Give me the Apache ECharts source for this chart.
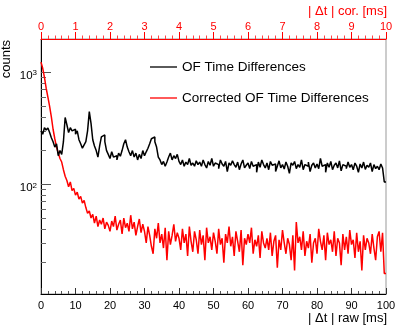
<!DOCTYPE html>
<html>
<head>
<meta charset="utf-8">
<script src="https://cdn.jsdelivr.net/npm/echarts@6/dist/echarts.min.js"></script>
<style>
html,body{margin:0;padding:0;background:#fff;}
#chart{width:415px;height:328px;}
</style>
</head>
<body>
<div id="chart"></div>
<script>
// ---- data ----
const seriesNames = ['OF Time Differences', 'Corrected OF Time Differences'];
const rawRange = [0, 100];   // bottom axis, ms
const corRange = [0, 10];    // top axis, ms
const rawBinWidth = 0.5;
const corBinWidth = 0.05;
const rawTicks = [0, 10, 20, 30, 40, 50, 60, 70, 80, 90, 100];
const corTicks = [0, 1, 2, 3, 4, 5, 6, 7, 8, 9, 10];
const yMajorTicks = [100, 1000];
const yMinorTicks = [20, 30, 40, 50, 60, 70, 80, 90, 200, 300, 400, 500, 600, 700, 800, 900];
const yRange = [10.5, 1980];

const ofCounts = [
300,280,320,305,318,290,260,240,215,230,
180,200,185,240,395,340,290,320,300,310,
280,300,250,230,210,225,240,300,445,350,
250,220,200,175,220,265,276,240,200,185,
170,195,175,180,165,190,178,200,230,250,
215,195,180,200,175,190,165,185,170,200,
180,195,210,230,255,265,240,215,175,165,
150,160,145,158,175,190,165,180,170,185,
160,150,165,145,158,150,170,148,155,145,
162,150,158,145,165,150,140,160,148,170,
145,155,150,138,165,152,145,160,130,155,
148,162,150,142,158,135,152,165,140,148,
155,138,160,145,150,128,158,142,165,150,
140,155,135,160,148,152,130,145,162,140,
150,137,158,145,125,155,148,160,138,150,
142,165,135,150,145,158,130,148,155,140,
152,138,170,145,150,128,155,142,160,135,
148,155,140,162,132,150,145,138,158,142,
150,135,155,145,128,152,140,158,136,148,
142,155,130,150,138,145,135,152,140,105
];

const corCounts = [
1230,1085,900,720,600,495,400,310,255,215,
190,170,158,135,118,108,95,105,88,92,
80,85,74,78,68,72,62,55,58,50,
54,45,52,42,48,44,50,40,46,43,
38,47,42,52,39,44,48,36,50,41,
45,38,53,40,46,35,42,49,37,44,
38,30,42,35,28,24,40,33,45,30,
36,27,41,21,38,29,35,44,31,37,
33,26,40,30,36,23,42,31,25,38,
32,24,39,29,35,21,41,30,34,26,
37,31,24,40,29,33,20,36,30,42,
28,34,23,38,31,25,39,19,33,29,
36,30,41,24,32,28,35,22,38,30,
27,33,26,37,23,31,35,18,32,26,
39,30,24,33,29,21,35,17,46,30,
34,26,38,23,31,27,36,20,30,33,
24,40,31,26,35,21,37,29,32,25,
38,23,33,30,19,36,26,34,24,39,
29,32,22,37,25,31,17,35,26,33,
30,24,36,27,21,34,38,25,37,16
];

// ---- build histogram step data (left bin edges + closing edge) ----
function histData(counts, w, xmax) {
  const d = counts.map((c, i) => [i * w, c]);
  d.push([xmax, counts[counts.length - 1]]);
  return d;
}

const FONT = 'Liberation Sans';
const chart = echarts.init(document.getElementById('chart'), null, {renderer: 'canvas'});

chart.setOption({
  animation: false,
  backgroundColor: '#fff',
  grid: {left: 41, right: 29, top: 39, bottom: 34, show: true, borderColor: '#999', borderWidth: 1, containLabel: false},
  legend: {
    data: seriesNames,
    orient: 'vertical',
    left: 145, top: 55,
    icon: 'rect',
    itemWidth: 27, itemHeight: 1.3,
    itemGap: 17,
    textStyle: {fontFamily: FONT, fontSize: 13.5, color: '#000'},
    selectedMode: false
  },
  xAxis: [
    {
      type: 'value', position: 'bottom', min: rawRange[0], max: rawRange[1], interval: 10,
      axisLine: {show: true, lineStyle: {color: '#000', width: 1}},
      axisTick: {show: true, inside: true, length: 6, lineStyle: {color: '#333'}},
      minorTick: {show: true, splitNumber: 5, length: 3, lineStyle: {color: '#555'}},
      axisLabel: {show: true, margin: 6, fontFamily: FONT, fontSize: 11, color: '#000',
        customValues: rawTicks},
      splitLine: {show: false}
    },
    {
      type: 'value', position: 'top', min: corRange[0], max: corRange[1], interval: 1,
      axisLine: {show: true, lineStyle: {color: '#f00', width: 1}},
      axisTick: {show: true, inside: false, length: 7, lineStyle: {color: '#f00'}},
      minorTick: {show: true, splitNumber: 5, length: 3.5, lineStyle: {color: '#f44'}},
      axisLabel: {show: true, margin: 6.5, fontFamily: FONT, fontSize: 11, color: '#f00',
        customValues: corTicks},
      splitLine: {show: false}
    }
  ],
  yAxis: [
    {
      type: 'log', logBase: 10, position: 'left', min: yRange[0], max: yRange[1],
      axisLine: {show: true, lineStyle: {color: '#000', width: 1}},
      axisTick: {show: true, inside: true, length: 10, lineStyle: {color: '#555'}, customValues: yMajorTicks},
      axisLabel: {show: true, margin: 4, customValues: yMajorTicks, padding: [8, 0, 0, 0],
        formatter: function (v) { return '{b|10}{s|' + Math.round(Math.log10(v)) + '}'; },
        rich: {
          b: {fontFamily: FONT, fontSize: 11.5, lineHeight: 12, color: '#000', verticalAlign: 'bottom'},
          s: {fontFamily: FONT, fontSize: 8, lineHeight: 9, color: '#000', verticalAlign: 'bottom', padding: [0, 0, 5, 0]}
        }
      },
      splitLine: {show: false}
    },
    {
      type: 'log', logBase: 10, position: 'left', min: yRange[0], max: yRange[1],
      axisLine: {show: false},
      axisTick: {show: true, inside: true, length: 5, lineStyle: {color: '#666'}, customValues: yMinorTicks},
      axisLabel: {show: false},
      splitLine: {show: false}
    }
  ],
  series: [
    {
      name: seriesNames[0], type: 'line', step: 'end', xAxisIndex: 0, yAxisIndex: 0,
      data: histData(ofCounts, rawBinWidth, rawRange[1]),
      symbol: 'none', showSymbol: false,
      lineStyle: {color: '#000', width: 1.5}, itemStyle: {color: '#000'}, z: 3
    },
    {
      name: seriesNames[1], type: 'line', step: 'end', xAxisIndex: 1, yAxisIndex: 0,
      data: histData(corCounts, corBinWidth, corRange[1]),
      symbol: 'none', showSymbol: false,
      lineStyle: {color: '#f00', width: 1.5}, itemStyle: {color: '#f00'}, z: 2
    }
  ],
  graphic: [
    {type: 'text', right: 415 - 387, top: 312, style: {text: '| Δt | raw [ms]', fontFamily: FONT, fontSize: 13, fill: '#000'}},
    {type: 'text', right: 415 - 387, top: 5, style: {text: '| Δt | cor. [ms]', fontFamily: FONT, fontSize: 13, fill: '#f00'}},
    {type: 'text', x: 13, y: 40, rotation: Math.PI / 2,
      style: {text: 'counts', fontFamily: FONT, fontSize: 13, fill: '#000', align: 'right', verticalAlign: 'bottom'}}
  ]
});
</script>
</body>
</html>
